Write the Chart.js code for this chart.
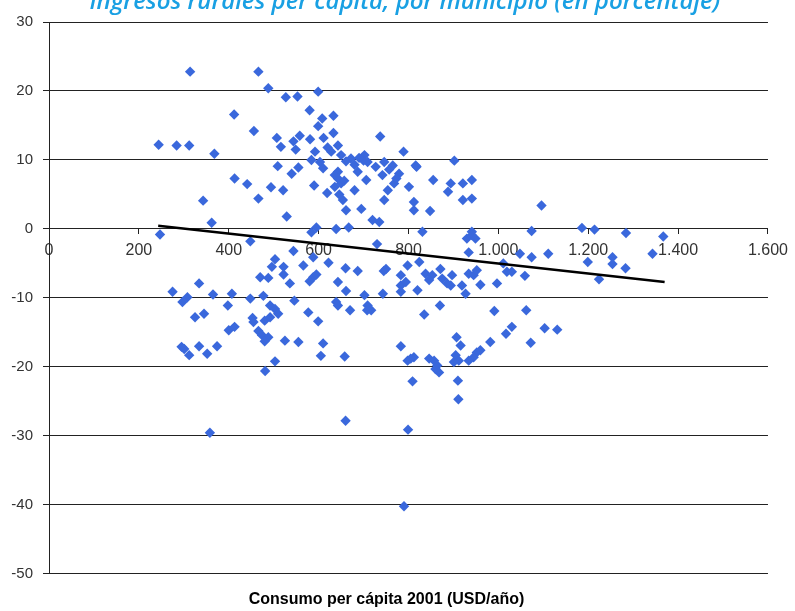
<!DOCTYPE html>
<html>
<head>
<meta charset="utf-8">
<script src="https://cdn.jsdelivr.net/npm/chart.js@4.4.1/dist/chart.umd.min.js"></script>
<style>
  html, body { margin: 0; padding: 0; background: #fff; overflow: hidden; }
  #wrap { position: absolute; left: 0; top: 0; width: 795px; height: 611px; }
</style>
</head>
<body>
<div id="wrap"><canvas id="chart"></canvas></div>
<script>
// Consumo per cápita vs. variación de ingresos rurales, por municipio

const chartTitle = 'ingresos rurales per cápita, por municipio (en porcentaje)';
const axisTitle = 'Consumo per cápita 2001 (USD/año)';

// x: consumo per cápita (USD/año)
const consumo = [
  314, 466, 488, 599, 527, 553, 412, 580, 633, 608, 599, 456, 633, 737, 507, 558, 544, 581, 611, 244,
  284, 312, 516, 549, 368, 643, 592, 628, 650, 672, 702, 709, 680, 584, 603, 610, 789, 746, 765, 816,
  509, 555, 540, 643, 643, 650, 636, 687, 680, 706, 742, 779, 768, 754, 801, 812, 812, 413, 441, 494,
  521, 590, 619, 466, 343, 654, 746, 661, 695, 529, 362, 720, 735, 595, 639, 667, 636, 657, 646, 700,
  690, 727, 757, 773, 620, 661,
  818, 902, 855, 894, 921, 941, 888, 921, 941, 848, 1096, 831, 941, 1074, 1186, 1214, 1284, 1367,
  247, 448, 544, 503, 496, 522, 522, 566, 588, 584, 588, 580, 595, 622, 660, 687, 730, 750, 745, 783,
  798, 643, 661, 702, 743, 783, 794, 783, 470, 488, 536, 334, 275, 297, 308, 365, 407, 448, 477, 398,
  492, 503, 510, 546, 639, 643, 709, 717, 708, 670, 577, 599, 325, 345, 453, 455, 480, 492, 400, 413,
  466, 474, 488, 480, 525, 555, 610, 295, 301, 312, 334, 352, 374, 605, 658, 783, 798, 812, 503, 481,
  809,
  930, 941, 949, 934, 1111, 1074, 1048, 1011, 1019, 1030, 1059, 997, 1199, 1224, 1254, 1254, 1283, 1343, 824, 838,
  853, 846, 871, 875, 886, 894, 897, 919, 927, 934, 945, 952, 960, 820, 870, 835, 991, 1062, 1030, 1017,
  1103, 1131, 1072, 982, 907, 916, 952, 960, 945, 934, 905, 901, 912, 805, 846, 857, 864, 868, 860, 910,
  911,
  358, 660, 799, 790
];

// y: variación de ingresos rurales per cápita (%)
const variacion = [
  22.8, 22.8, 20.4, 19.9, 19.1, 19.2, 16.6, 17.2, 16.4, 16.0, 14.9, 14.2, 13.9, 13.4, 13.2, 13.5, 12.7, 13.0, 13.2, 12.2,
  12.1, 12.1, 11.9, 11.5, 10.9, 12.1, 11.2, 11.2, 10.7, 10.2, 10.7, 9.7, 9.3, 10.0, 9.7, 8.8, 11.2, 9.7, 9.2, 9.2,
  9.1, 8.9, 8.0, 8.3, 7.3, 6.6, 6.1, 8.3, 5.6, 7.1, 7.8, 8.0, 6.6, 5.6, 6.1, 3.9, 2.7, 7.3, 6.5, 6.05,
  5.6, 6.3, 5.2, 4.4, 4.1, 4.2, 4.2, 2.7, 2.9, 1.8, 0.9, 1.3, 1.0, 0.2, 0.0, 0.2, 7.8, 7.0, 5.0, 9.9,
  10.3, 9.0, 8.6, 7.3, 11.8, 9.8,
  9.0, 9.9, 7.1, 6.6, 6.6, 7.1, 5.4, 4.2, 4.4, 2.6, 3.4, -0.4, -0.4, -0.3, 0.15, -0.1, -0.6, -1.1,
  -0.8, -1.8, -3.2, -4.4, -5.5, -5.5, -6.6, -5.3, -4.1, -0.5, -7.0, -7.6, -6.6, -4.9, -5.7, -6.1, -2.2, -5.8, -6.1, -6.7,
  -5.3, -7.7, -9.0, -9.6, -9.4, -8.2, -7.7, -9.1, -7.0, -7.1, -7.9, -7.9, -9.1, -10.6, -9.9, -9.5, -9.4, -10.1, -9.7, -11.1,
  -11.1, -11.6, -12.3, -10.4, -10.6, -11.1, -11.1, -11.8, -11.8, -11.8, -12.1, -13.4, -12.8, -12.3, -12.9, -13.5, -13.3, -12.8, -14.7, -14.2,
  -14.8, -15.4, -15.7, -16.3, -16.2, -16.4, -16.6, -17.1, -17.4, -18.3, -17.0, -18.1, -17.0, -18.4, -18.5, -17.0, -19.1, -18.6, -19.2, -20.6,
  -22.1,
  -1.4, -0.9, -1.4, -3.4, -3.6, -4.1, -3.6, -5.0, -6.2, -6.2, -6.8, -7.9, -4.8, -7.3, -4.1, -5.1, -5.7, -3.6, -4.8, -6.5,
  -6.7, -7.4, -5.8, -7.2, -7.9, -8.2, -6.7, -8.2, -9.4, -6.5, -6.7, -6.0, -8.1, -8.9, -11.1, -12.4, -11.9, -11.8, -14.2, -15.2,
  -14.4, -14.6, -16.5, -16.4, -15.7, -16.9, -17.9, -17.6, -18.6, -19.1, -18.3, -19.3, -19.1, -18.8, -18.8, -19.1, -19.8, -20.8, -20.3, -22.0,
  -24.7,
  -29.55, -27.8, -29.1, -40.2
];

// linear trend, read at its two ends
const trendX = [243, 1370];
const trendY = [0.45, -7.7];

// axis ticks
const xTicks = [0, 200, 400, 600, 800, 1000, 1200, 1400, 1600];
const yTicks = [-50, -40, -30, -20, -10, 0, 10, 20, 30];

// 1000 -> "1.000"
function fmtMiles(v) {
    if (v < 1000) return String(v);
    return Math.floor(v / 1000) + '.' + String(v % 1000).padStart(3, '0');
}

const points = consumo.map((x, i) => ({ x: x, y: variacion[i] }));
const trend = trendX.map((x, i) => ({ x: x, y: trendY[i] }));

const axisFont = "'Liberation Sans', Arial, sans-serif";

// title sits half off the top edge, like the cropped original
const croppedTitle = {
    id: 'croppedTitle',
    afterDraw(chart) {
        const ctx = chart.ctx;
        ctx.save();
        ctx.font = "italic 600 24px 'Open Sans', sans-serif";
        ctx.fillStyle = '#19a0e3';
        ctx.textAlign = 'center';
        ctx.textBaseline = 'alphabetic';
        ctx.fillText(chartTitle, 405, 9);
        ctx.restore();
    }
};

new Chart(document.getElementById('chart'), {
    type: 'scatter',
    data: {
        datasets: [
            {
                label: 'tendencia',
                data: trend,
                showLine: true,
                borderColor: '#000',
                borderWidth: 2.5,
                pointRadius: 0,
                fill: false,
                order: 0
            },
            {
                label: 'municipios',
                data: points,
                pointStyle: 'rectRot',
                pointRadius: 5.2,
                backgroundColor: '#3a68dc',
                borderColor: '#3a68dc',
                borderWidth: 0,
                order: 1
            }
        ]
    },
    plugins: [croppedTitle],
    options: {
        responsive: true,
        maintainAspectRatio: false,
        animation: false,
        layout: { padding: { left: 0, right: 22, top: 22, bottom: 0 } },
        plugins: {
            legend: { display: false },
            tooltip: { enabled: false },
            title: { display: false },
            subtitle: {
                display: true,
                position: 'bottom',
                text: axisTitle,
                color: '#000',
                font: { family: axisFont, size: 16, weight: 'bold' },
                padding: { top: 16, bottom: 2 }
            }
        },
        scales: {
            x: {
                type: 'linear',
                position: { y: 0 },
                min: 0,
                max: 1600,
                z: 1,
                afterBuildTicks: scale => { scale.ticks = xTicks.map(v => ({ value: v })); },
                grid: { drawOnChartArea: false, drawTicks: true, tickLength: 5, color: '#222' },
                border: { display: true, color: '#222', width: 1 },
                ticks: {
                    color: '#333',
                    padding: 7,
                    maxRotation: 0,
                    autoSkip: false,
                    font: { family: axisFont, size: 16 },
                    callback: v => fmtMiles(v)
                }
            },
            y: {
                type: 'linear',
                position: 'left',
                min: -50,
                max: 30,
                afterBuildTicks: scale => { scale.ticks = yTicks.map(v => ({ value: v })); },
                afterFit: scale => { scale.width = 49; },
                grid: { color: '#222', lineWidth: 1, drawTicks: true, tickLength: 6 },
                border: { display: true, color: '#222', width: 1 },
                ticks: {
                    color: '#333',
                    padding: 10,
                    font: { family: axisFont, size: 15 }
                }
            }
        }
    }
});
</script>
</body>
</html>
